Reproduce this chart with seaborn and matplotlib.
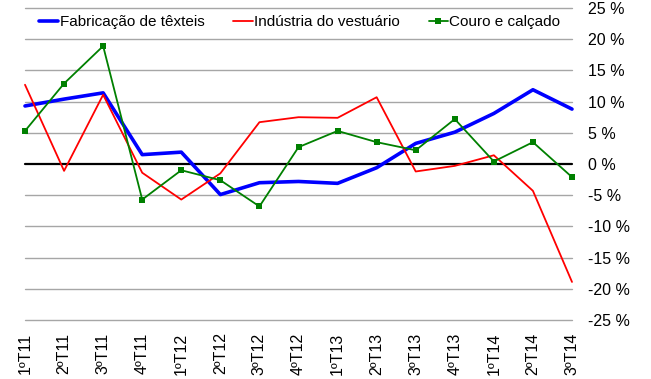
import matplotlib
matplotlib.use("Agg")
import matplotlib.pyplot as plt
import seaborn as sns
import pandas as pd

# Quarterly variation (%) by sector
quarters = ["1ºT11", "2ºT11", "3ºT11", "4ºT11", "1ºT12", "2ºT12", "3ºT12", "4ºT12",
            "1ºT13", "2ºT13", "3ºT13", "4ºT13", "1ºT14", "2ºT14", "3ºT14"]
texteis = [9.3, 10.4, 11.4, 1.5, 1.9, -4.9, -3.0, -2.8, -3.1, -0.6, 3.3, 5.1, 8.1, 11.9, 8.8]
vestuario = [12.7, -1.1, 11.1, -1.4, -5.7, -1.5, 6.7, 7.5, 7.4, 10.7, -1.2, -0.3, 1.4, -4.3, -18.9]
couro = [5.3, 12.9, 18.9, -5.7, -1.0, -2.6, -6.8, 2.7, 5.3, 3.5, 2.2, 7.2, 0.4, 3.5, -2.1]

series_names = ["Fabricação de têxteis", "Indústria do vestuário", "Couro e calçado"]
y_ticks = [-25, -20, -15, -10, -5, 0, 5, 10, 15, 20, 25]

sns.set_theme(style="white")
plt.rcParams["font.family"] = ["Liberation Sans", "DejaVu Sans"]

df = pd.DataFrame({
    "idx": list(range(len(quarters))) * 3,
    "valor": texteis + vestuario + couro,
    "serie": [series_names[0]] * len(quarters) + [series_names[1]] * len(quarters)
             + [series_names[2]] * len(quarters),
})

W, H = 651, 379
fig = plt.figure(figsize=(W / 100, H / 100), dpi=100)
ax = fig.add_axes([25 / W, 1 - 320 / H, 547 / W, 312 / H])

# horizontal gridlines and zero line
for v in y_ticks:
    if v == 0:
        continue
    ax.axhline(v, color="#a6a6a6", lw=1.0, zorder=1, clip_on=False)
ax.axhline(0, color="black", lw=1.6, zorder=2, clip_on=False)

styles = {
    series_names[0]: dict(color="#0000FF", lw=2.6, marker=None),
    series_names[1]: dict(color="#FF0000", lw=1.3, marker=None),
    series_names[2]: dict(color="#008000", lw=1.3, marker="s"),
}
for name in series_names:
    st = styles[name]
    sub = df[df["serie"] == name]
    sns.lineplot(data=sub, x="idx", y="valor", ax=ax, color=st["color"], lw=st["lw"],
                 marker=st["marker"], markersize=6, markeredgewidth=0,
                 label=name, clip_on=False, zorder=3)

ax.set_xlim(0, len(quarters) - 1)
ax.set_ylim(-25, 25)
ax.set_xticks(range(len(quarters)))
ax.set_xticklabels(quarters, rotation=90, fontsize=11.5, color="black")
ax.set_yticks(y_ticks)
ax.set_yticklabels([f"{v} %" for v in y_ticks], fontsize=11.5, color="black")
ax.yaxis.tick_right()
ax.tick_params(axis="y", length=0, pad=11.5)
ax.tick_params(axis="x", length=0, pad=9)
ax.set_xlabel("")
ax.set_ylabel("")
for s in ax.spines.values():
    s.set_visible(False)
ax.grid(False)

handles, labels = ax.get_legend_handles_labels()
for h in handles:
    h.set_markersize(5)
leg = ax.legend(handles, labels, loc="center left", bbox_to_anchor=(14 / 547, (320 - 22) / 312),
                ncol=3, frameon=False, fontsize=11, handlelength=1.25, handletextpad=0.1,
                columnspacing=1.9, borderpad=0, borderaxespad=0)
for t in leg.get_texts():
    t.set_color("black")

fig.savefig("out.png", dpi=100)
